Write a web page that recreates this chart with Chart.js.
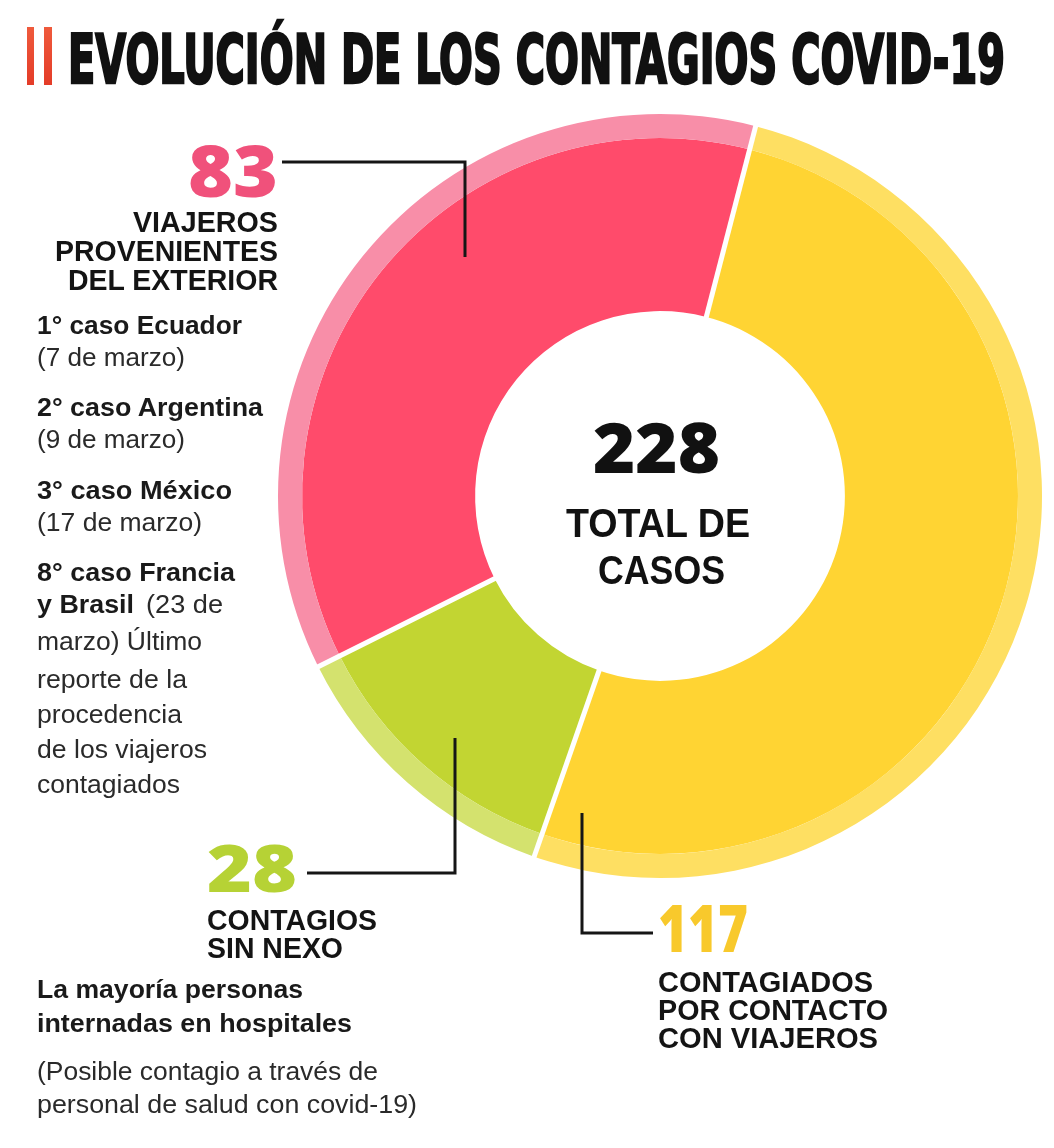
<!DOCTYPE html>
<html>
<head>
<meta charset="utf-8">
<script src="https://cdn.jsdelivr.net/npm/chart.js@4.4.0/dist/chart.umd.min.js"></script>
<style>
html,body{margin:0;padding:0;background:#fff;}
#wrap{position:relative;width:1054px;height:1148px;overflow:hidden;background:#fff;}
#c{position:absolute;left:0;top:0;}
.t{position:absolute;white-space:pre;line-height:1;transform-origin:0 0;}
.bar{position:absolute;background:linear-gradient(#ef5a3c,#e43c28);}
</style>
</head>
<body>
<div id="wrap">
  <canvas id="c" width="1054" height="1148"></canvas>
  <div class="bar" style="left:27px;top:27px;width:7px;height:58px;"></div>
  <div class="bar" style="left:44px;top:27px;width:8px;height:58px;"></div>
</div>
<script>
// ---------- DATA ----------
const CATEGORIES = ['Contagiados por contacto con viajeros', 'Contagios sin nexo', 'Viajeros provenientes del exterior'];
const CASES = [117, 28, 83];
const TOTAL_CASES = CASES.reduce((a, b) => a + b, 0); // 228
const MAIN_COLORS = ['#ffd433', '#c2d532', '#ff4b6b'];
const BAND_COLORS = ['#fedf62', '#d4e26e', '#f88ea8'];
const NUMBER_COLORS = ['#f8c92c', '#b6d235', '#f0517b'];

// ---------- LAYOUT (annotation geometry, not data) ----------
const ROTATION = 14.5;
const LEADERS = [
  [[582, 813], [582, 933], [653, 933]],
  [[307, 873], [455, 873], [455, 738]],
  [[282, 162], [465, 162], [465, 257]]
];

const FONT_TITLE = '"DejaVu Sans Condensed","DejaVu Sans",sans-serif';
const FONT_NUM = '"Open Sans","Lato",sans-serif';
const FONT_TXT = '"Liberation Sans Narrow","Liberation Sans",Arial,sans-serif';

// text lines: text, x, baseline, cap height, width, weight, family, color, align
const TEXTS = [
  ['EVOLUCIÓN DE LOS CONTAGIOS COVID-19', 68, 83, 50, 937, 700, FONT_TITLE, '#111', 'left', 'title'],

  [String(CASES[2]), 188, 197, 51, 90, 800, FONT_NUM, NUMBER_COLORS[2], 'left'],
  ['VIAJEROS', 278, 232, 20, 145, 700, FONT_TXT, '#141414', 'right'],
  ['PROVENIENTES', 278, 261, 20, 223, 700, FONT_TXT, '#141414', 'right'],
  ['DEL EXTERIOR', 278, 290, 20, 210, 700, FONT_TXT, '#141414', 'right'],

  ['1° caso Ecuador', 37, 334, 18, 205, 700, FONT_TXT, '#1a1a1a', 'left'],
  ['(7 de marzo)', 37, 366, 18, 148, 400, FONT_TXT, '#2a2a2a', 'left'],
  ['2° caso Argentina', 37, 416, 18, 226, 700, FONT_TXT, '#1a1a1a', 'left'],
  ['(9 de marzo)', 37, 448, 18, 148, 400, FONT_TXT, '#2a2a2a', 'left'],
  ['3° caso México', 37, 499, 18, 195, 700, FONT_TXT, '#1a1a1a', 'left'],
  ['(17 de marzo)', 37, 531, 18, 165, 400, FONT_TXT, '#2a2a2a', 'left'],
  ['8° caso Francia', 37, 581, 18, 198, 700, FONT_TXT, '#1a1a1a', 'left'],
  ['y Brasil', 37, 613, 18, 97, 700, FONT_TXT, '#1a1a1a', 'left'],
  ['(23 de', 146, 613, 18, 77, 400, FONT_TXT, '#2a2a2a', 'left'],
  ['marzo) Último', 37, 650, 18, 165, 400, FONT_TXT, '#2a2a2a', 'left'],
  ['reporte de la', 37, 688, 18, 150, 400, FONT_TXT, '#2a2a2a', 'left'],
  ['procedencia', 37, 723, 18, 145, 400, FONT_TXT, '#2a2a2a', 'left'],
  ['de los viajeros', 37, 758, 18, 170, 400, FONT_TXT, '#2a2a2a', 'left'],
  ['contagiados', 37, 793, 18, 143, 400, FONT_TXT, '#2a2a2a', 'left'],

  [String(CASES[1]), 207, 892, 47, 90, 800, FONT_NUM, NUMBER_COLORS[1], 'left'],
  ['CONTAGIOS', 207, 930, 20, 170, 700, FONT_TXT, '#141414', 'left'],
  ['SIN NEXO', 207, 958, 20, 136, 700, FONT_TXT, '#141414', 'left'],
  ['La mayoría personas', 37, 998, 18, 266, 700, FONT_TXT, '#1a1a1a', 'left'],
  ['internadas en hospitales', 37, 1032, 18, 315, 700, FONT_TXT, '#1a1a1a', 'left'],
  ['(Posible contagio a través de', 37, 1080, 18, 341, 400, FONT_TXT, '#2a2a2a', 'left'],
  ['personal de salud con covid-19)', 37, 1113, 18, 380, 400, FONT_TXT, '#2a2a2a', 'left'],

  [String(CASES[0]), 658, 952, 47, 90, 800, FONT_NUM, NUMBER_COLORS[0], 'left'],
  ['CONTAGIADOS', 658, 992, 20, 215, 700, FONT_TXT, '#141414', 'left'],
  ['POR CONTACTO', 658, 1020, 20, 230, 700, FONT_TXT, '#141414', 'left'],
  ['CON VIAJEROS', 658, 1048, 20, 220, 700, FONT_TXT, '#141414', 'left'],

  [String(TOTAL_CASES), 593, 473, 50, 127, 800, FONT_NUM, '#111', 'left'],
  ['TOTAL DE', 566, 537, 29, 184, 700, FONT_TXT, '#111', 'left'],
  ['CASOS', 598, 584, 29, 127, 700, FONT_TXT, '#111', 'left']
];

// ---------- CHART ----------
const separators = {
  id: 'separators',
  afterDatasetsDraw(chart) {
    const inner = chart.getDatasetMeta(1).data;
    const outer = chart.getDatasetMeta(0).data;
    const ctx = chart.ctx;
    ctx.save();
    ctx.strokeStyle = '#ffffff';
    ctx.lineWidth = 5;
    inner.forEach((arc, i) => {
      const a = arc.startAngle;
      const r0 = arc.innerRadius - 2;
      const r1 = outer[i].outerRadius + 3;
      ctx.beginPath();
      ctx.moveTo(arc.x + Math.cos(a) * r0, arc.y + Math.sin(a) * r0);
      ctx.lineTo(arc.x + Math.cos(a) * r1, arc.y + Math.sin(a) * r1);
      ctx.stroke();
    });
    ctx.restore();
  },
  afterDraw(chart) {
    const ctx = chart.ctx;
    ctx.save();
    ctx.strokeStyle = '#161616';
    ctx.lineWidth = 3;
    ctx.lineJoin = 'miter';
    LEADERS.forEach(pts => {
      ctx.beginPath();
      pts.forEach((p, i) => i ? ctx.lineTo(p[0], p[1]) : ctx.moveTo(p[0], p[1]));
      ctx.stroke();
    });
    ctx.restore();
  }
};

new Chart(document.getElementById('c'), {
  type: 'doughnut',
  data: {
    labels: CATEGORIES,
    datasets: [
      { data: CASES, backgroundColor: BAND_COLORS, weight: 24, borderWidth: 0, hoverOffset: 0, offset: 0 },
      { data: CASES, backgroundColor: MAIN_COLORS, weight: 173, borderWidth: 0, hoverOffset: 0, offset: 0 }
    ]
  },
  options: {
    responsive: false,
    animation: false,
    events: [],
    rotation: ROTATION,
    cutout: '48.4%',
    layout: { padding: { left: 278, top: 114, right: 12, bottom: 270 } },
    plugins: { legend: { display: false }, tooltip: { enabled: false } }
  },
  plugins: [separators]
});

// ---------- TEXT ----------
const wrap = document.getElementById('wrap');
const mctx = document.createElement('canvas').getContext('2d');
function capRatio(weight, family) {
  mctx.font = weight + ' 100px ' + family;
  const m = mctx.measureText('H');
  return (m.actualBoundingBoxAscent || 72) / 100;
}
TEXTS.forEach(([text, x, base, capH, w, weight, family, color, align, kind]) => {
  const el = document.createElement('div');
  el.className = 't';
  const span = document.createElement('span');
  span.textContent = text;
  const mk = document.createElement('span');
  mk.style.cssText = 'display:inline-block;width:0;height:0;';
  el.appendChild(span);
  el.appendChild(mk);
  el.style.fontFamily = family;
  el.style.fontWeight = weight;
  el.style.color = color;
  if (kind === 'title') {
    el.style.fontStretch = 'condensed';
    el.style.webkitTextStroke = '2.5px #111';
  }
  el.style.fontSize = (capH / capRatio(weight, family)) + 'px';
  el.style.left = '0px';
  el.style.top = '0px';
  wrap.appendChild(el);
  const wr = wrap.getBoundingClientRect();
  const b = mk.getBoundingClientRect().top - wr.top;
  const width = span.getBoundingClientRect().width;
  const left = align === 'right' ? x - w : x;
  el.style.left = left + 'px';
  el.style.top = (base - b) + 'px';
  el.style.transform = 'scaleX(' + (w / width) + ')';
});
</script>
</body>
</html>
